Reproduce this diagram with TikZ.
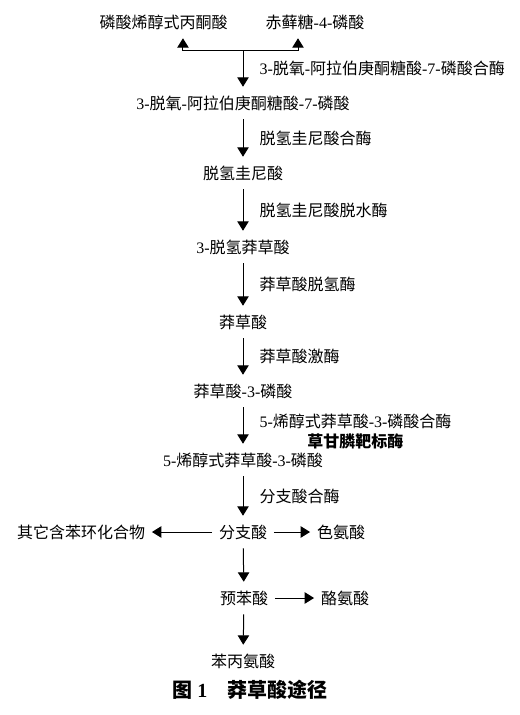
\documentclass[tikz,border=0pt]{standalone}
\usepackage{fontspec}
\setmainfont{Noto Sans CJK SC}
\newfontfamily\latnfont{Liberation Serif}
\newcommand{\lnum}[1]{{\latnfont #1}}
\usetikzlibrary{arrows.meta}

\begin{document}
\begin{tikzpicture}[x=0.75pt, y=-0.75pt,
  every node/.style={font=\fontsize{12}{15}\selectfont},
  cpd/.style={inner sep=0pt, inner xsep=5pt, minimum height=24pt},
  arr/.style={-{Triangle[width=8.5pt,length=7pt]}, line width=0.75pt},
  enz/.style={midway, anchor=west, inner sep=0pt, xshift=12pt}]
\def\colx{243}
\useasboundingbox (0,0) rectangle (520,715);
% compounds
\node[cpd] (pep) at (163.5,22) {磷酸烯醇式丙酮酸};
\node[cpd] (e4p) at (315,22) {赤藓糖\lnum{-4-}磷酸};
\coordinate (fork) at (\colx,50);
\node[cpd] (dahp) at (\colx,103) {\lnum{3-}脱氧\lnum{-}阿拉伯庚酮糖酸\lnum{-7-}磷酸};
\node[cpd] (dhq) at (\colx,173) {脱氢圭尼酸};
\node[cpd] (dhs) at (\colx,247) {\lnum{3-}脱氢莽草酸};
\node[cpd] (shk) at (\colx,322) {莽草酸};
\node[cpd] (s3p) at (\colx,391) {莽草酸\lnum{-3-}磷酸};
\node[cpd] (epsp) at (\colx,460) {\lnum{5-}烯醇式莽草酸\lnum{-3-}磷酸};
\node[cpd] (cho) at (\colx,532) {分支酸};
\node[cpd] (other) at (81,532) {其它含苯环化合物};
\node[cpd] (trp) at (341,532) {色氨酸};
\node[cpd] (pph) at (244,598) {预苯酸};
\node[cpd] (tyr) at (345,598) {酪氨酸};
\node[cpd] (phe) at (\colx,661) {苯丙氨酸};
% arrows
\draw[arr] (fork) -| ([xshift=14.6pt]pep.south);
\draw[arr] (fork) -| ([xshift=-12.75pt]e4p.south);
\draw[arr] (fork) -- (dahp) node[enz] {\lnum{3-}脱氧\lnum{-}阿拉伯庚酮糖酸\lnum{-7-}磷酸合酶};
\draw[arr] (dahp) -- (dhq) node[enz] {脱氢圭尼酸合酶};
\draw[arr] (dhq) -- (dhs) node[enz] {脱氢圭尼酸脱水酶};
\draw[arr] (dhs) -- (shk) node[enz] {莽草酸脱氢酶};
\draw[arr] (shk) -- (s3p) node[enz] {莽草酸激酶};
\draw[arr] (s3p) -- (epsp) node[enz, align=center, yshift=-4.5pt] {\lnum{5-}烯醇式莽草酸\lnum{-3-}磷酸合酶\\\textbf{草甘膦靶标酶}};
\draw[arr] (epsp) -- (cho) node[enz] {分支酸合酶};
\draw[arr] (cho) -- (other);
\draw[arr] (cho) -- (trp);
\draw[arr] (cho) -- (pph);
\draw[arr] (pph) -- (tyr);
\draw[arr] (pph) -- (phe);
% caption
\node[font=\fontsize{15}{18}\selectfont\bfseries] (cap) at (250,690) {图 \lnum{1}\quad 莽草酸途径};
\end{tikzpicture}
\end{document}
